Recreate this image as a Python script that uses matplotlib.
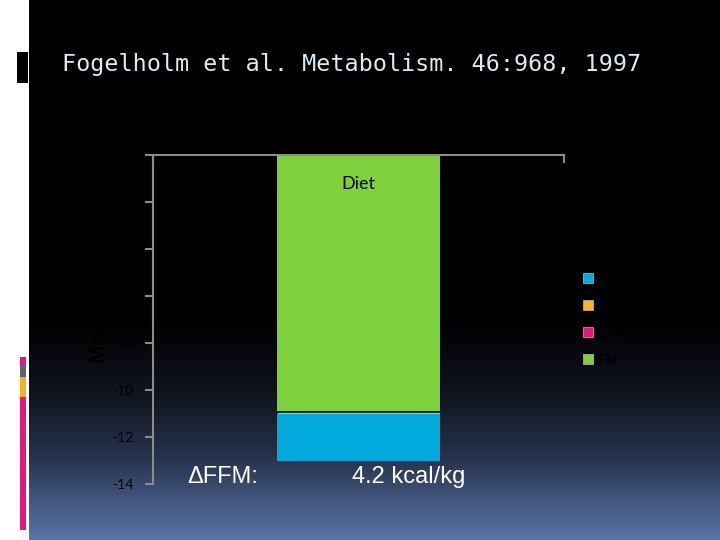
import numpy as np
import matplotlib
matplotlib.use('Agg')
import matplotlib.pyplot as plt
from matplotlib.patches import Rectangle
from matplotlib.lines import Line2D

# Datos del gráfico (barra apilada, valores negativos)
categories = ['Diet']
series_names = ['FM', 'TBW', 'BMC', 'FFM']
series_values = [[-10.9], [-0.05], [-0.05], [-2.0]]
series_colors = ['#7ED13B', '#E0197A', '#FFB61C', '#00AADC']
y_ticks = [0, -2, -4, -6, -8, -10, -12, -14]
title_text = 'Fogelholm et al. Metabolism. 46:968, 1997'
ylabel_text = 'Mass (kg)'
note_left = '\u0394FFM:'
note_right = '4.2 kcal/kg'

W, H = 720, 540


def fx(px):
    return px / W


def fy(py):
    return 1 - py / H


fig = plt.figure(figsize=(7.2, 5.4), dpi=100)
fig.patch.set_facecolor('white')

# Fondo degradado de la diapositiva
bg = fig.add_axes([fx(29), 0, fx(720 - 29), 1], zorder=-10)
stops_y = np.array([0, 320, 400, 460, 500, 540]) / H
stops_c = np.array([[0, 0, 0], [0, 0, 0], [18, 22, 33], [40, 52, 78],
                    [66, 86, 126], [90, 116, 166]]) / 255
yy = np.linspace(0, 1, 540)
grad = np.stack([np.interp(yy, stops_y, stops_c[:, k]) for k in range(3)], axis=1)
bg.imshow(grad[:, None, :], aspect='auto', extent=[0, 1, 1, 0])
bg.set_axis_off()

# Decoraciones del borde izquierdo
fig.patches.append(Rectangle((fx(17), fy(83)), fx(11), 31 / H, transform=fig.transFigure,
                             facecolor='black', edgecolor='none'))
for y0, y1, c in [(357, 365, '#E3177F'), (365, 377, '#5A6470'),
                  (377, 397, '#F5B21E'), (397, 530, '#E3177F')]:
    fig.patches.append(Rectangle((fx(20), fy(y1)), fx(6), (y1 - y0) / H,
                                 transform=fig.transFigure, facecolor=c, edgecolor='none'))

fig.text(fx(62), fy(71), title_text, family='DejaVu Sans Mono', fontsize=16.8,
         color='#DDE9F5', ha='left', va='baseline')

# Eje principal
ax = fig.add_axes([fx(153), fy(484), fx(564 - 153), (484 - 155) / H])
ax.set_facecolor('none')
x = np.arange(len(categories))
bottom = np.zeros(len(categories))
handles = []
for name, vals, c in zip(series_names, series_values, series_colors):
    vals = np.array(vals)
    small = abs(vals[0]) < 0.5
    ax.bar(x, vals, width=0.3966, bottom=bottom, color=c,
           edgecolor='#222222' if small else 'none', linewidth=0.6)
    bottom = bottom + vals
    handles.append(Line2D([], [], marker='s', linestyle='none', markersize=7.5,
                          markerfacecolor=c, markeredgecolor='#BBBBBB', markeredgewidth=0.5))

ax.set_xlim(-0.5, 0.5)
ax.set_ylim(min(y_ticks), max(y_ticks))
ax.set_yticks(y_ticks)
ax.set_yticklabels([str(t) for t in y_ticks], family='Lato', fontsize=10, color='black')
ax.tick_params(axis='y', direction='out', length=6, width=1.5, color='#8C8C8C', pad=8)
ax.xaxis.tick_top()
ax.set_xticks([-0.5, 0.5])
ax.set_xticklabels([])
ax.tick_params(axis='x', direction='in', length=6, width=1.5, color='#8C8C8C')
for s in ['right', 'bottom']:
    ax.spines[s].set_visible(False)
for s in ['left', 'top']:
    ax.spines[s].set_color('#8C8C8C')
    ax.spines[s].set_linewidth(1.5)

for i, cat in enumerate(categories):
    ax.annotate(cat, xy=(i, 0), xytext=(0, -21), textcoords='offset points',
                ha='center', va='center', family='Lato', fontsize=13, color='black')

fig.text(fx(100), fy(363), ylabel_text, rotation=90, ha='center', va='bottom',
         family='Liberation Sans', fontweight='bold', fontsize=16, color='black')

leg = ax.legend(handles[::-1], series_names[::-1], loc='upper left',
                bbox_to_anchor=(fx(582), fy(273)), bbox_transform=fig.transFigure,
                frameon=False, fontsize=10, labelspacing=1.0, handlelength=0.8,
                handletextpad=0.3, borderpad=0, borderaxespad=0)
for t in leg.get_texts():
    t.set_color('black')
    t.set_family('Liberation Serif')

fig.text(fx(187), fy(483), note_left, family='Liberation Sans', fontsize=17,
         color='white', ha='left', va='baseline')
fig.text(fx(352), fy(483), note_right, family='Liberation Sans', fontsize=17,
         color='white', ha='left', va='baseline')

fig.savefig('out.png', dpi=100)
